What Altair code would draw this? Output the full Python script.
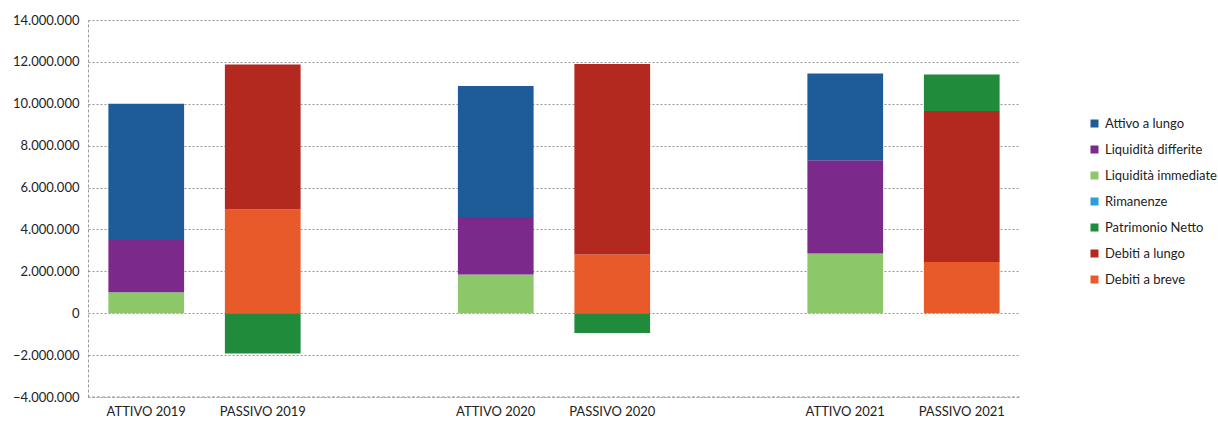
import altair as alt
import pandas as pd

categories = ["ATTIVO 2019", "PASSIVO 2019", " ", "ATTIVO 2020", "PASSIVO 2020", "  ", "ATTIVO 2021", "PASSIVO 2021"]
series = ["Attivo a lungo", "Liquidità differite", "Liquidità immediate", "Rimanenze",
          "Patrimonio Netto", "Debiti a lungo", "Debiti a breve"]
colors = ["#1d5c98", "#7b2a8b", "#8cc76a", "#2a9fd8", "#1f8b3b", "#b3281f", "#e85a29"]

# stacking order from bottom: lower number drawn first (bottom)
stack_order = {"Liquidità immediate": 1, "Liquidità differite": 2, "Rimanenze": 3, "Attivo a lungo": 4,
               "Debiti a breve": 1, "Debiti a lungo": 2, "Patrimonio Netto": 3}

bar_cat = ["ATTIVO 2019", "ATTIVO 2019", "ATTIVO 2019",
           "PASSIVO 2019", "PASSIVO 2019", "PASSIVO 2019",
           "ATTIVO 2020", "ATTIVO 2020", "ATTIVO 2020",
           "PASSIVO 2020", "PASSIVO 2020", "PASSIVO 2020",
           "ATTIVO 2021", "ATTIVO 2021", "ATTIVO 2021",
           "PASSIVO 2021", "PASSIVO 2021", "PASSIVO 2021"]
bar_series = ["Liquidità immediate", "Liquidità differite", "Attivo a lungo",
              "Debiti a breve", "Debiti a lungo", "Patrimonio Netto",
              "Liquidità immediate", "Liquidità differite", "Attivo a lungo",
              "Debiti a breve", "Debiti a lungo", "Patrimonio Netto",
              "Liquidità immediate", "Liquidità differite", "Attivo a lungo",
              "Debiti a breve", "Debiti a lungo", "Patrimonio Netto"]
bar_values = [1000000, 2500000, 6500000,
              4950000, 6930000, -1920000,
              1850000, 2750000, 6250000,
              2800000, 9100000, -950000,
              2850000, 4450000, 4150000,
              2450000, 7200000, 1750000]

df = pd.DataFrame({"categoria": bar_cat, "voce": bar_series, "valore": bar_values})
df["ordine"] = df["voce"].map(stack_order)

FONT = "Lato"

chart = alt.Chart(df).mark_bar().encode(
    x=alt.X("categoria:N", sort=categories,
            scale=alt.Scale(domain=categories, paddingInner=0.35, paddingOuter=0.175),
            axis=alt.Axis(title=None, labelAngle=0, domain=False, ticks=False,
                          labelFontSize=13, labelColor="#222222", labelPadding=8, labelFont=FONT)),
    y=alt.Y("valore:Q", stack="zero",
            scale=alt.Scale(domain=[-4000000, 14000000], nice=False),
            axis=alt.Axis(title=None, values=list(range(-4000000, 14000001, 2000000)),
                          labelExpr="replace(format(datum.value, ','), /,/g, '.')",
                          labelFontSize=13, labelColor="#222222", labelPadding=9, labelFont=FONT,
                          domain=True, domainColor="#999999", domainDash=[3, 2], domainWidth=1,
                          ticks=False, grid=True, gridColor="#999999", gridDash=[2, 2], gridWidth=1)),
    color=alt.Color("voce:N", scale=alt.Scale(domain=series, range=colors),
                    legend=alt.Legend(title=None, orient="none", legendX=1000, legendY=97,
                                      symbolType="square", symbolSize=64, symbolStrokeWidth=0,
                                      labelFontSize=13, labelColor="#222222", labelFont=FONT,
                                      rowPadding=12, labelOffset=4)),
    order=alt.Order("ordine:Q", sort="ascending"),
)

bottom = alt.Chart(pd.DataFrame({"y": [-4000000]})).mark_rule(
    color="#999999", strokeDash=[3, 2], strokeWidth=1
).encode(y="y:Q")

final = alt.layer(chart, bottom).properties(
    width=932, height=377,
    autosize=alt.AutoSizeParams(type="none"),
    padding={"left": 88, "top": 20, "right": 198, "bottom": 24},
).configure(background="white").configure_view(strokeWidth=0, stroke="transparent")

final.save("out.html", embed_options={"renderer": "svg", "actions": False})
